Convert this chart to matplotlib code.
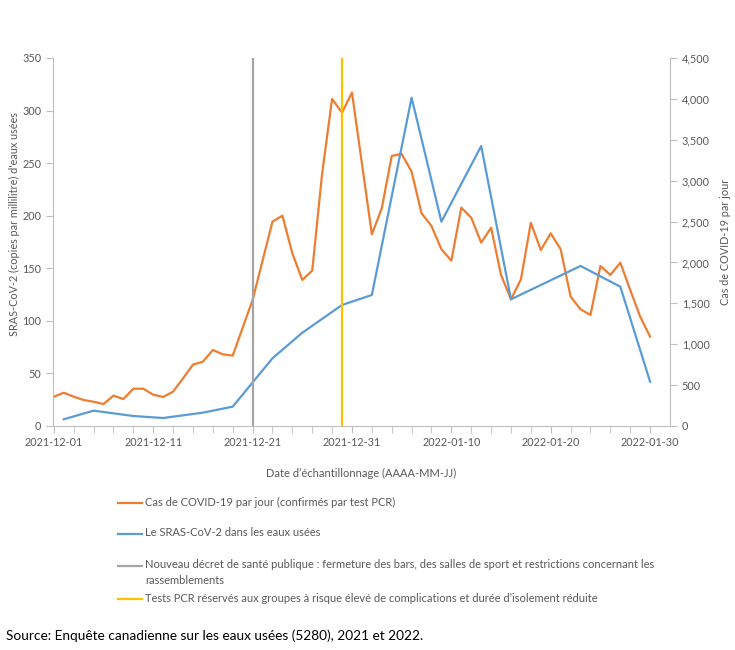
import matplotlib
matplotlib.use("Agg")
import matplotlib.pyplot as plt
import matplotlib.dates as mdates
from matplotlib.lines import Line2D
from matplotlib.ticker import FuncFormatter, MultipleLocator
import numpy as np
import pandas as pd

plt.rcParams['font.family'] = ['Lato', 'DejaVu Sans']

# Daily COVID-19 cases (right axis)
case_dates = ["2021-12-01", "2021-12-02", "2021-12-03", "2021-12-04", "2021-12-05",
              "2021-12-06", "2021-12-07", "2021-12-08", "2021-12-09", "2021-12-10",
              "2021-12-11", "2021-12-12", "2021-12-13", "2021-12-14", "2021-12-15",
              "2021-12-16", "2021-12-17", "2021-12-18", "2021-12-19", "2021-12-21",
              "2021-12-23", "2021-12-24", "2021-12-25", "2021-12-26", "2021-12-27",
              "2021-12-28", "2021-12-29", "2021-12-30", "2021-12-31", "2022-01-02",
              "2022-01-03", "2022-01-04", "2022-01-05", "2022-01-06", "2022-01-07",
              "2022-01-08", "2022-01-09", "2022-01-10", "2022-01-11", "2022-01-12",
              "2022-01-13", "2022-01-14", "2022-01-15", "2022-01-16", "2022-01-17",
              "2022-01-18", "2022-01-19", "2022-01-20", "2022-01-21", "2022-01-22",
              "2022-01-23", "2022-01-24", "2022-01-25", "2022-01-26", "2022-01-27",
              "2022-01-28", "2022-01-29", "2022-01-30"]
case_values = [358, 407, 358, 318, 297,
               269, 371, 330, 456, 456,
               383, 355, 420, 583, 750,
               787, 929, 877, 860, 1541,
               2499, 2572, 2112, 1786, 1900,
               3090, 3999, 3832, 4077, 2344,
               2662, 3302, 3327, 3110, 2601,
               2446, 2161, 2022, 2670, 2548,
               2242, 2425, 1847, 1549, 1794,
               2486, 2152, 2356, 2161, 1581,
               1427, 1358, 1957, 1847, 1997,
               1663, 1337, 1092]

# SARS-CoV-2 in wastewater (left axis, copies/mL)
ww_dates = ["2021-12-02", "2021-12-05", "2021-12-09", "2021-12-12", "2021-12-16",
            "2021-12-19", "2021-12-23", "2021-12-26", "2021-12-30", "2022-01-02",
            "2022-01-06", "2022-01-09", "2022-01-13", "2022-01-16", "2022-01-23",
            "2022-01-27", "2022-01-30"]
ww_values = [6.4, 14.6, 9.5, 7.6, 12.7,
             18.4, 64.4, 88.7, 115.1, 124.6,
             312.3, 194.3, 266.3, 120.5, 152.2,
             132.5, 42.1]

event_dates = ["2021-12-21", "2021-12-30"]
event_colors = ["#A5A5A5", "#FFC000"]

legend_labels = [
    "Cas de COVID-19 par jour (confirmés par test PCR)",
    "Le SRAS-CoV-2 dans les eaux usées",
    "Nouveau décret de santé publique : fermeture des bars, des salles de sport et restrictions concernant les\nrassemblements",
    "Tests PCR réservés aux groupes à risque élevé de complications et durée d’isolement réduite",
]

ORANGE = "#ED7D31"
BLUE = "#5B9BD5"
TXT = "#595959"
SPINE = "#BFBFBF"
FS = 7.8
LFS = 8.0

W, H = 735, 650
fig = plt.figure(figsize=(W / 100, H / 100), dpi=100)
ax = fig.add_axes([53 / W, 1 - 426 / H, (670 - 53) / W, (426 - 58) / H])
ax2 = ax.twinx()

cd = pd.to_datetime(case_dates)
wd = pd.to_datetime(ww_dates)

ax2.plot(cd, case_values, color=ORANGE, lw=1.6, solid_joinstyle='round', zorder=3)
ax.plot(wd, ww_values, color=BLUE, lw=1.6, solid_joinstyle='round', zorder=3)
for d, c in zip(event_dates, event_colors):
    ax.axvline(pd.Timestamp(d), color=c, lw=1.6, zorder=4)

ax.set_zorder(ax2.get_zorder() + 1)
ax.patch.set_visible(False)

x0 = pd.Timestamp("2021-12-01") - pd.Timedelta(hours=2)
x1 = pd.Timestamp("2022-02-01")
ax.set_xlim(x0, x1)
ax.set_ylim(0, 350)
ax2.set_ylim(0, 4500)
ax.yaxis.set_major_locator(MultipleLocator(50))
ax2.yaxis.set_major_locator(MultipleLocator(500))
ax2.yaxis.set_major_formatter(FuncFormatter(lambda v, p: f"{int(v):,}"))

major = pd.date_range("2021-12-01", "2022-01-30", freq="10D")
minor = pd.date_range("2021-12-01", "2022-01-31", freq="2D")
ax.set_xticks(major)
ax.set_xticks(minor, minor=True)
ax.xaxis.set_major_formatter(mdates.DateFormatter("%Y-%m-%d"))

for a in (ax, ax2):
    for s in a.spines.values():
        s.set_color(SPINE)
    a.spines['top'].set_visible(False)
ax.spines['right'].set_visible(False)
ax2.spines['left'].set_visible(False)
ax2.spines['bottom'].set_visible(False)

ax.tick_params(axis='x', which='both', length=5, color=SPINE, labelsize=FS, labelcolor=TXT, pad=3)
ax.tick_params(axis='y', length=5, color=SPINE, labelsize=FS, labelcolor=TXT)
ax2.tick_params(axis='y', length=5, color=SPINE, labelsize=FS, labelcolor=TXT)

ax.set_ylabel("SRAS-CoV-2 (copies par millilitre) d'eaux usées", fontsize=FS, color=TXT)
ax.yaxis.set_label_coords(-0.054, 0.55)
ax2.set_ylabel("Cas de COVID-19 par jour", fontsize=FS, color=TXT, labelpad=7)
ax.set_xlabel("Date d’échantillonnage (AAAA-MM-JJ)", fontsize=LFS, color=TXT, labelpad=14)

# Legend (manual)
leg_colors = [ORANGE, BLUE, "#A5A5A5", "#FFC000"]
leg_y = [503, 534, 566, 599]
for lab, c, y in zip(legend_labels, leg_colors, leg_y):
    fig.add_artist(Line2D([118 / W, 142 / W], [1 - y / H, 1 - y / H], color=c, lw=1.6,
                          transform=fig.transFigure))
    fig.text(145 / W, 1 - (y - 6.5) / H, lab, fontsize=LFS, color=TXT, va='top', ha='left',
             linespacing=1.5)

fig.text(6 / W, 1 - 636 / H, "Source: Enquête canadienne sur les eaux usées (5280), 2021 et 2022.",
         fontsize=9.8, color="#000000", va='center', ha='left')

fig.savefig("out.png", dpi=100)
